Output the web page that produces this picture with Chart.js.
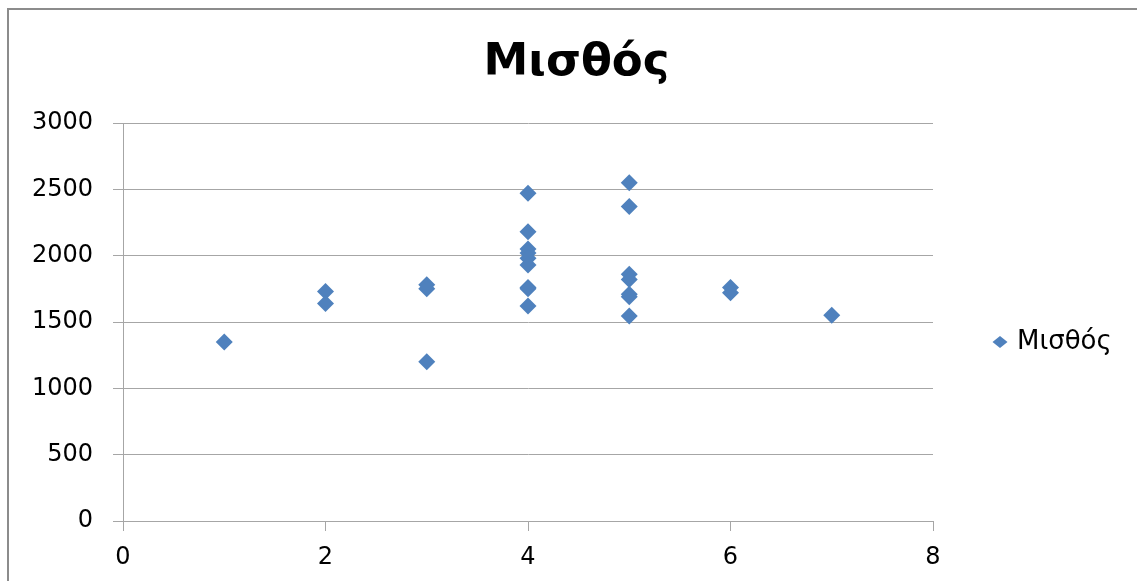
<!DOCTYPE html>
<html>
<head>
<meta charset="utf-8">
<script src="https://cdn.jsdelivr.net/npm/chart.js@4"></script>
<style>
  html, body { margin: 0; padding: 0; background: #ffffff; }
  #wrap { width: 1137px; height: 581px; position: relative; }
</style>
</head>
<body>
<div id="wrap"><canvas id="c" width="1137" height="581"></canvas></div>
<script>
// ---- data ----
const seriesName = "Μισθός";
const xValues = [1, 2, 2, 3, 3, 3, 4, 4, 4, 4, 4, 4, 4, 4, 4, 5, 5, 5, 5, 5, 5, 5, 6, 6, 7];
const yValues = [1350, 1730, 1640, 1780, 1750, 1200, 2470, 2180, 2050, 2020, 1980, 1930, 1760, 1750, 1620, 2550, 2370, 1860, 1820, 1710, 1690, 1545, 1760, 1720, 1550];
const xTicks = [0, 2, 4, 6, 8];
const yTicks = [0, 500, 1000, 1500, 2000, 2500, 3000];

const points = xValues.map((x, i) => ({ x: x, y: yValues[i] }));
const FONT = "'DejaVu Sans', 'Liberation Sans', sans-serif";
const BLUE = "#4F81BD";
const GRID = "#A6A6A6";

const frame = {
  id: 'frame',
  beforeDraw(chart) {
    const ctx = chart.ctx;
    ctx.save();
    ctx.fillStyle = '#ffffff';
    ctx.fillRect(0, 0, chart.width, chart.height);
    ctx.strokeStyle = '#8C8C8C';
    ctx.lineWidth = 2;
    ctx.strokeRect(8, 9, chart.width + 10, chart.height + 10);
    ctx.restore();
  }
};

// legend drawn beside the plot, to the right of the chart area
const sideLegend = {
  id: 'sideLegend',
  afterDraw(chart) {
    const ctx = chart.ctx;
    const ds = chart.data.datasets[0];
    const cx = chart.chartArea.right + 67;
    const cy = (chart.chartArea.top + chart.chartArea.bottom) / 2 + 20;
    ctx.save();
    ctx.fillStyle = ds.backgroundColor;
    ctx.beginPath();
    ctx.moveTo(cx - 7.5, cy);
    ctx.lineTo(cx, cy - 6);
    ctx.lineTo(cx + 7.5, cy);
    ctx.lineTo(cx, cy + 6);
    ctx.closePath();
    ctx.fill();
    ctx.fillStyle = '#000000';
    ctx.font = "26px " + FONT;
    ctx.textBaseline = 'middle';
    ctx.textAlign = 'left';
    ctx.fillText(ds.label, cx + 17, cy);
    ctx.restore();
  }
};

new Chart(document.getElementById('c'), {
  type: 'scatter',
  data: {
    datasets: [{
      label: seriesName,
      data: points,
      pointStyle: 'rectRot',
      pointRadius: 8.5,
      pointHoverRadius: 8.5,
      backgroundColor: BLUE,
      borderColor: BLUE,
      borderWidth: 0
    }]
  },
  options: {
    responsive: false,
    animation: false,
    layout: { padding: { left: 16, top: 0, right: 0, bottom: 0 } },
    plugins: {
      title: {
        display: true,
        text: seriesName,
        color: '#000000',
        font: { family: FONT, size: 45, weight: 'bold' },
        padding: { top: 36, bottom: 33 }
      },
      legend: { display: false },
      tooltip: { enabled: false }
    },
    scales: {
      x: {
        type: 'linear',
        min: 0, max: 8,
        afterBuildTicks: (s) => { s.ticks = xTicks.map(v => ({ value: v })); },
        afterFit: (s) => { s.height = 60; },
        grid: { drawOnChartArea: false, drawTicks: true, tickLength: 10, color: GRID },
        border: { display: true, color: GRID, width: 1 },
        ticks: { color: '#000000', padding: 12, font: { family: FONT, size: 24 }, callback: (v) => String(v) }
      },
      y: {
        type: 'linear',
        min: 0, max: 3000,
        afterBuildTicks: (s) => { s.ticks = yTicks.map(v => ({ value: v })); },
        afterFit: (s) => { s.width = 107; },
        grid: { drawOnChartArea: true, drawTicks: true, tickLength: 10, color: GRID },
        border: { display: true, color: GRID, width: 1 },
        ticks: { color: '#000000', padding: 20, font: { family: FONT, size: 24 }, callback: (v) => String(v) }
      },
      legendSpace: {
        type: 'linear',
        position: 'right',
        display: true,
        afterFit: (s) => { s.width = 204; },
        grid: { display: false, drawTicks: false },
        border: { display: false },
        ticks: { display: false }
      }
    }
  },
  plugins: [frame, sideLegend]
});
</script>
</body>
</html>
